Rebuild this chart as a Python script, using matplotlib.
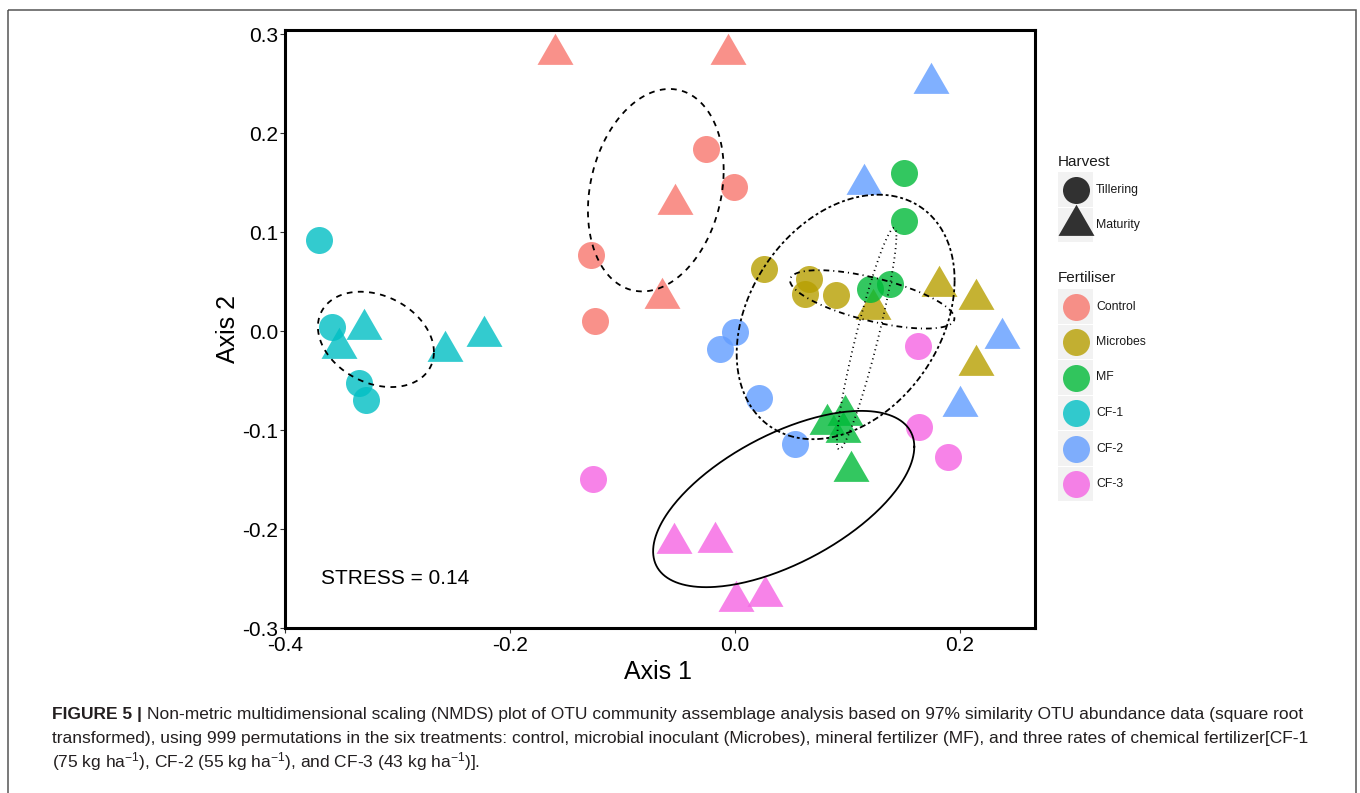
import numpy as np
import matplotlib
matplotlib.use('Agg')
import matplotlib.pyplot as plt
from matplotlib import font_manager
from matplotlib.patches import Rectangle

plt.rcParams['font.family'] = ['Liberation Sans', 'DejaVu Sans']

fertilisers = ['Control', 'Microbes', 'MF', 'CF-1', 'CF-2', 'CF-3']
colors = ['#F8766D', '#B79F00', '#00BA38', '#00BFC4', '#619CFF', '#F564E3']
# first four samples of each treatment at tillering, last four at maturity
harvest = ['Tillering'] * 4 + ['Maturity'] * 4

control_x = [-0.026, -0.001, -0.128, -0.124, -0.160, -0.006, -0.053, -0.065]
control_y = [0.184, 0.146, 0.0775, 0.010, 0.280, 0.280, 0.129, 0.034]
microbes_x = [0.026, 0.066, 0.062, 0.090, 0.181, 0.214, 0.123, 0.214]
microbes_y = [0.063, 0.0525, 0.038, 0.037, 0.046, 0.033, 0.022, -0.034]
mf_x = [0.150, 0.150, 0.120, 0.138, 0.0815, 0.098, 0.096, 0.103]
mf_y = [0.160, 0.111, 0.043, 0.0475, -0.0936, -0.085, -0.1016, -0.141]
cf1_x = [-0.370, -0.3585, -0.334, -0.328, -0.330, -0.352, -0.258, -0.223]
cf1_y = [0.092, 0.004, -0.052, -0.070, 0.002, -0.017, -0.020, -0.005]
cf2_x = [0.000, -0.013, 0.021, 0.053, 0.174, 0.115, 0.237, 0.200]
cf2_y = [-0.001, -0.0175, -0.068, -0.114, 0.2505, 0.1485, -0.007, -0.076]
cf3_x = [-0.1265, 0.163, 0.164, 0.1895, -0.054, -0.0175, 0.001, 0.027]
cf3_y = [-0.1495, -0.015, -0.097, -0.1275, -0.214, -0.213, -0.273, -0.268]

stress = 0.14

groups = {
    'Control': (control_x, control_y),
    'Microbes': (microbes_x, microbes_y),
    'MF': (mf_x, mf_y),
    'CF-1': (cf1_x, cf1_y),
    'CF-2': (cf2_x, cf2_y),
    'CF-3': (cf3_x, cf3_y),
}
ellipse_ls = {
    'Control': (0, (3.2, 3)),
    'Microbes': (0, (0.6, 2.2, 3.2, 2.2)),
    'MF': (0, (0.6, 2.0)),
    'CF-1': (0, (3.2, 3)),
    'CF-2': (0, (1.6, 1.6, 3.4, 1.6)),
    'CF-3': '-',
}

tri = [(0, 1), (-0.866, -0.5), (0.866, -0.5)]
shapes = {'Tillering': ('o', 378), 'Maturity': (tri, 894)}

fig = plt.figure(figsize=(13.6, 7.93), dpi=100)
ax = fig.add_axes([285 / 1360, 1 - 628 / 793, 750 / 1360, 598 / 793])

for name, col in zip(fertilisers, colors):
    x, y = groups[name]
    for h in ['Tillering', 'Maturity']:
        idx = [i for i, v in enumerate(harvest) if v == h]
        m, s = shapes[h]
        ax.scatter([x[i] for i in idx], [y[i] for i in idx], marker=m, s=s,
                   color=col, alpha=0.8, linewidths=0, zorder=2)

# 1-sd ellipses around each treatment centroid
t = np.linspace(0, 2 * np.pi, 300)
for name in fertilisers:
    pts = np.column_stack(groups[name])
    c = pts.mean(axis=0)
    L = np.linalg.cholesky(np.cov(pts.T))
    e = c[:, None] + L @ np.vstack([np.cos(t), np.sin(t)])
    ax.plot(e[0], e[1], color='black', lw=1.3, ls=ellipse_ls[name], zorder=3)

ax.text(-0.368, -0.2495, 'STRESS = %.2f' % stress, fontsize=15, va='center')

ax.set_xlim(-0.4, 0.2667)
ax.set_ylim(-0.3, 0.3045)
ax.set_xticks([-0.4, -0.2, 0.0, 0.2])
ax.set_yticks([-0.3, -0.2, -0.1, 0.0, 0.1, 0.2, 0.3])
ax.xaxis.set_major_formatter(matplotlib.ticker.FormatStrFormatter('%.1f'))
ax.yaxis.set_major_formatter(matplotlib.ticker.FormatStrFormatter('%.1f'))
ax.tick_params(direction='out', length=3.5, width=0.8, color='#333333',
               labelsize=15, pad=1.5, labelcolor='black')
ax.tick_params(axis='x', pad=2.5)
for sp in ax.spines.values():
    sp.set_linewidth(2.2)
    sp.set_color('black')
ax.set_xlabel('Axis 1', fontsize=18)
ax.set_ylabel('Axis 2', fontsize=18)
ax.xaxis.set_label_coords(0.498, -0.053)
ax.yaxis.set_label_coords(-0.06, 0.5)

# overlay in pixel coordinates: frame, legend, caption
ov = fig.add_axes([0, 0, 1, 1], zorder=5)
ov.set_xlim(0, 1360)
ov.set_ylim(793, 0)
ov.axis('off')
ov.add_patch(Rectangle((8, 10), 1348, 800, fill=False, ec='#555555', lw=1.1))

ov.text(1058, 162, 'Harvest', fontsize=11, va='center', color='#1a1a1a')
for i, h in enumerate(['Tillering', 'Maturity']):
    y0 = 172 + i * 35.5
    ov.add_patch(Rectangle((1058, y0), 35, 34.5, color='#F2F2F2', lw=0))
    m, s = shapes[h]
    ov.scatter([1075.5], [y0 + 17.5], marker=m, s=s, color='black', alpha=0.8, linewidths=0)
    ov.text(1096, y0 + 17.5, h, fontsize=8.8, va='center', color='#1a1a1a')

ov.text(1058, 278, 'Fertiliser', fontsize=11, va='center', color='#1a1a1a')
for i, (name, col) in enumerate(zip(fertilisers, colors)):
    y0 = 289 + i * 35.5
    ov.add_patch(Rectangle((1058, y0), 35, 34.5, color='#F2F2F2', lw=0))
    ov.scatter([1075.5], [y0 + 17.5], marker='o', s=378, color=col, alpha=0.8, linewidths=0)
    ov.text(1096, y0 + 17.5, name, fontsize=8.8, va='center', color='#1a1a1a')

# caption
names = {f.name for f in font_manager.fontManager.ttflist}
cap_font = 'Liberation Sans Narrow' if 'Liberation Sans Narrow' in names else 'Liberation Sans'
plt.rcParams['mathtext.fontset'] = 'custom'
plt.rcParams['mathtext.rm'] = cap_font
plt.rcParams['mathtext.default'] = 'regular'

line1 = ('Non-metric multidimensional scaling (NMDS) plot of OTU community assemblage analysis '
         'based on 97% similarity OTU abundance data (square root')
line2 = ('transformed), using 999 permutations in the six treatments: control, microbial inoculant '
         '(Microbes), mineral fertilizer (MF), and three rates of chemical fertilizer[CF-1')
line3 = r'(75 kg ha$^{-1}$), CF-2 (55 kg ha$^{-1}$), and CF-3 (43 kg ha$^{-1}$)].'

fs = 12
kw = dict(family=[cap_font, 'DejaVu Sans'], color='#231F20', va='baseline')
bold = ov.text(52, 718.5, 'FIGURE 5 |', fontsize=fs, weight='bold', **kw)
t1 = ov.text(152, 718.5, line1, fontsize=fs, **kw)
t2 = ov.text(52, 743, line2, fontsize=fs, **kw)
t3 = ov.text(52, 767.5, line3, fontsize=fs, **kw)
r = fig.canvas.get_renderer()
total = bold.get_window_extent(r).width + 5 + t1.get_window_extent(r).width
fs = fs * (1302 - 52) / total
for tt in (bold, t1, t2, t3):
    tt.set_fontsize(fs)
bw = bold.get_window_extent(r).width
t1.set_x(52 + bw + 5)

fig.savefig('out.png', dpi=100)
